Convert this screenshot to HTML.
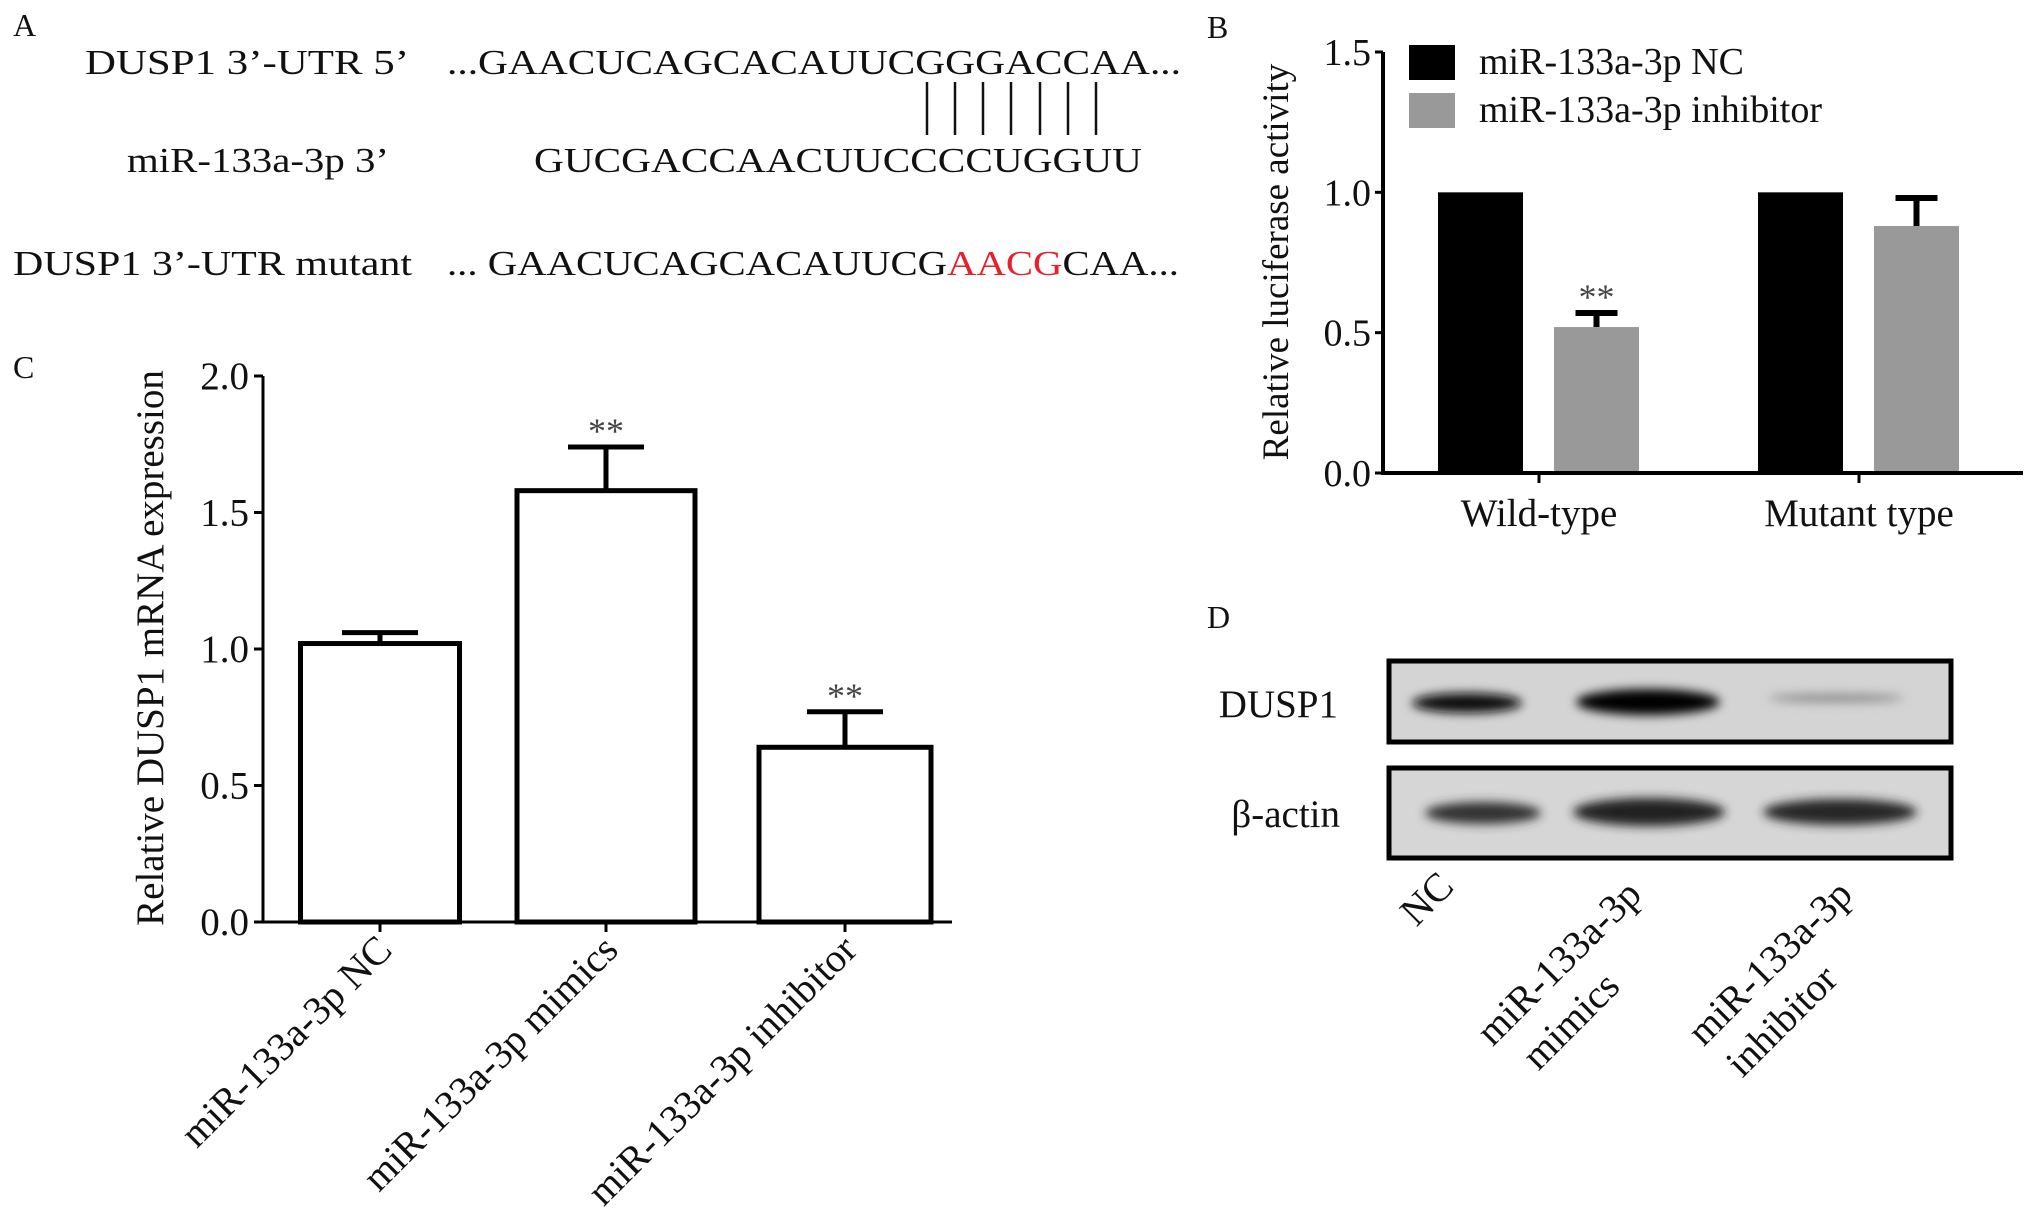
<!DOCTYPE html>
<html><head><meta charset="utf-8"><style>
html,body{margin:0;padding:0;background:#fff;}
svg{display:block;font-family:"Liberation Serif",serif;}
</style></head><body>
<svg id="fig" width="2031" height="1224" viewBox="0 0 2031 1224" xmlns="http://www.w3.org/2000/svg">
<defs>
<filter id="blur" x="-20%" y="-50%" width="140%" height="200%"><feGaussianBlur stdDeviation="5"/></filter>
</defs>
<g font-size="35" fill="#111">
<text x="13" y="36" font-size="32">A</text>
<text x="85" y="74" textLength="324" lengthAdjust="spacingAndGlyphs">DUSP1  3’-UTR 5’</text>
<text x="447" y="74" textLength="734" lengthAdjust="spacingAndGlyphs">...GAACUCAGCACAUUCGGGACCAA...</text>
<g stroke="#111" stroke-width="2.5">
<line x1="927" y1="82" x2="927" y2="135"/><line x1="955" y1="82" x2="955" y2="135"/><line x1="983" y1="82" x2="983" y2="135"/><line x1="1011" y1="82" x2="1011" y2="135"/><line x1="1040" y1="82" x2="1040" y2="135"/><line x1="1068" y1="82" x2="1068" y2="135"/><line x1="1096" y1="82" x2="1096" y2="135"/>
</g>
<text x="127" y="172" textLength="262" lengthAdjust="spacingAndGlyphs">miR-133a-3p  3’</text>
<text x="534" y="172" textLength="608" lengthAdjust="spacingAndGlyphs">GUCGACCAACUUCCCCUGGUU</text>
<text x="13" y="275" textLength="399" lengthAdjust="spacingAndGlyphs">DUSP1  3’-UTR mutant</text>
<text x="447" y="275" textLength="732" lengthAdjust="spacingAndGlyphs">... GAACUCAGCACAUUCG<tspan fill="#e8202a">AACG</tspan>CAA...</text>
</g>
<g id="panelB"></g>
<g id="panelC"></g>
<g>
<text x="1207" y="628" font-size="32" fill="#111">D</text>
<rect x="1389" y="661" width="562" height="81" fill="#d4d4d4" stroke="#000" stroke-width="5"/>
<rect x="1389" y="768" width="562" height="90" fill="#d6d6d6" stroke="#000" stroke-width="5"/>
<g filter="url(#blur)">
<ellipse cx="1467" cy="703" rx="55" ry="10" fill="#111"/>
<ellipse cx="1648" cy="702" rx="72" ry="13" fill="#000"/>
<ellipse cx="1836" cy="698" rx="68" ry="4" fill="#888"/>
<ellipse cx="1483" cy="813" rx="58" ry="11" fill="#333"/>
<ellipse cx="1649" cy="812" rx="76" ry="14" fill="#222"/>
<ellipse cx="1840" cy="812" rx="77" ry="13" fill="#252525"/>
</g>
<text x="1338" y="717" font-size="39" text-anchor="end" fill="#111">DUSP1</text>
<text x="1340" y="827" font-size="39" text-anchor="end" fill="#111">β-actin</text>
<g font-size="40" fill="#111" text-anchor="middle">
<text transform="translate(1436,908) rotate(-45)">NC</text>
<text transform="translate(1568,972) rotate(-45)">miR-133a-3p</text>
<text transform="translate(1580,1030) rotate(-45)">mimics</text>
<text transform="translate(1779,972) rotate(-45)">miR-133a-3p</text>
<text transform="translate(1791,1030) rotate(-45)">inhibitor</text>
</g>
</g>
</svg>
<script>
// Panel B data
const bCategories = ["Wild-type", "Mutant type"];
const bSeriesNames = ["miR-133a-3p NC", "miR-133a-3p inhibitor"];
const bNC = [1.0, 1.0];
const bInh = [0.52, 0.88];
const bInhErr = [0.57, 0.98];
const bTicks = ["0.0", "0.5", "1.0", "1.5"];
const bTickVals = [0, 0.5, 1.0, 1.5];
// Panel C data
const cCategories = ["miR-133a-3p NC", "miR-133a-3p mimics", "miR-133a-3p inhibitor"];
const cValues = [1.02, 1.58, 0.64];
const cErrTop = [1.06, 1.74, 0.77];
const cSig = ["", "**", "**"];
const cTicks = ["0.0", "0.5", "1.0", "1.5", "2.0"];
const cTickVals = [0, 0.5, 1.0, 1.5, 2.0];

const NS = "http://www.w3.org/2000/svg";
function mk(parent, tag, attrs, text) {
  const e = document.createElementNS(NS, tag);
  for (const k in attrs) e.setAttribute(k, attrs[k]);
  if (text !== undefined) e.textContent = text;
  parent.appendChild(e);
  return e;
}

// ---- Panel B ----
(function () {
  const g = document.getElementById("panelB");
  const x0 = 1383, x1 = 2023, yBase = 473, yTop = 52, vMax = 1.5;
  const y = v => yBase - (yBase - yTop) * v / vMax;
  const groupW = (x1 - x0) / bCategories.length;
  const bw = 85;
  let t = mk(g, "text", {x: 1207, y: 38, "font-size": 32, fill: "#111"}, "B");
  
  
  bCategories.forEach((c, i) => {
    const cx = x0 + groupW * (i + 0.5) - 4;
    const xa = cx - 101, xb = cx + 15;
    const r1 = mk(g, "rect", {x: xa, y: y(bNC[i]), width: bw, height: yBase - y(bNC[i]), fill: "#000"});
    
    
    const r2 = mk(g, "rect", {x: xb, y: y(bInh[i]), width: bw, height: yBase - y(bInh[i]), fill: "#999"});
    
    
    const ex = xb + bw / 2;
    const e = mk(g, "path", {d: `M${ex},${y(bInh[i])}V${y(bInhErr[i])}M${ex-21},${y(bInhErr[i])}H${ex+21}`, stroke: "#000", "stroke-width": 6, fill: "none"});
    
    
    if (i === 0) {
      const st = mk(g, "text", {x: ex, y: y(bInhErr[i]) - 4, "font-size": 36, "text-anchor": "middle", fill: "#444"}, "**");
      
      
    }
    const tk = mk(g, "line", {x1: cx, y1: yBase, x2: cx, y2: yBase + 10, stroke: "#000", "stroke-width": 3});
    
    
    const lb = mk(g, "text", {x: cx, y: 526, "font-size": 39, "text-anchor": "middle", fill: "#111"}, c);
    
    
  });
  const ax = mk(g, "path", {d: `M${x0},${yTop}V${yBase}H${x1}`, stroke: "#000", "stroke-width": 4, fill: "none"});
  
  
  bTickVals.forEach((v, i) => {
    const l = mk(g, "line", {x1: x0 - 8, y1: y(v), x2: x0, y2: y(v), stroke: "#000", "stroke-width": 3});
    
    
    const tl = mk(g, "text", {x: x0 - 12, y: y(v) + 13, "font-size": 38, "text-anchor": "end", fill: "#111"}, bTicks[i]);
    
    
  });
  const yt = mk(g, "text", {transform: "translate(1288,262) rotate(-90)", "font-size": 37, "text-anchor": "middle", fill: "#111"}, "Relative luciferase activity");
  
  
  const cols = ["#000", "#999"];
  bSeriesNames.forEach((n, i) => {
    const ly = 45 + i * 48;
    const sw = mk(g, "rect", {x: 1409, y: ly, width: 46, height: 35, fill: cols[i]});
    
    
    const lt = mk(g, "text", {x: 1479, y: ly + 29, "font-size": 38, fill: "#111"}, n);
    
    
  });
})();

// ---- Panel C ----
(function () {
  const g = document.getElementById("panelC");
  const x0 = 263, x1 = 952, yBase = 922, yTop = 376, vMax = 2.0;
  const y = v => yBase - (yBase - yTop) * v / vMax;
  const centers = [380, 606, 845];
  const bw = [159, 178, 172];
  let t = mk(g, "text", {x: 13, y: 378, "font-size": 32, fill: "#111"}, "C");
  
  
  cCategories.forEach((c, i) => {
    const cx = centers[i];
    const e = mk(g, "path", {d: `M${cx},${y(cValues[i])}V${y(cErrTop[i])}M${cx-38},${y(cErrTop[i])}H${cx+38}`, stroke: "#000", "stroke-width": 5, fill: "none"});
    
    
    const r = mk(g, "rect", {x: cx - bw[i] / 2, y: y(cValues[i]), width: bw[i], height: yBase - y(cValues[i]), fill: "#fff", stroke: "#000", "stroke-width": 5});
    
    
    if (cSig[i]) {
      const s = mk(g, "text", {x: cx, y: y(cErrTop[i]) - 4, "font-size": 36, "text-anchor": "middle", fill: "#444"}, cSig[i]);
      
      
    }
    const tk = mk(g, "line", {x1: cx, y1: yBase, x2: cx, y2: yBase + 10, stroke: "#000", "stroke-width": 3});
    
    
    const lb = mk(g, "text", {transform: `translate(${cx + 14},${yBase + 30}) rotate(-45)`, "font-size": 40, "text-anchor": "end", fill: "#111"}, c);
    
    
  });
  const ax = mk(g, "path", {d: `M${x0},${yTop}V${yBase}H${x1}`, stroke: "#000", "stroke-width": 3, fill: "none"});
  
  
  cTickVals.forEach((v, i) => {
    const l = mk(g, "line", {x1: x0 - 9, y1: y(v), x2: x0, y2: y(v), stroke: "#000", "stroke-width": 3});
    
    
    const tl = mk(g, "text", {x: x0 - 14, y: y(v) + 13, "font-size": 39, "text-anchor": "end", fill: "#111"}, cTicks[i]);
    
    
  });
  const yt = mk(g, "text", {transform: "translate(163,648) rotate(-90)", "font-size": 39, "text-anchor": "middle", fill: "#111"}, "Relative DUSP1 mRNA expression");
  
  
})();
</script>
</body></html>
